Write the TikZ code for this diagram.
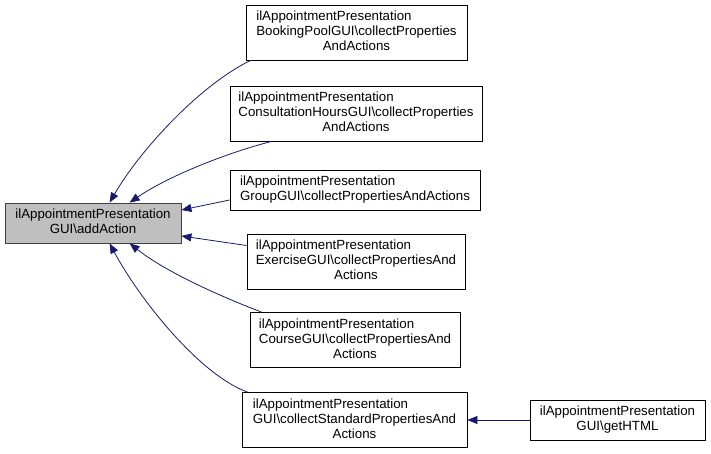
\documentclass[tikz,border=0pt]{standalone}
\usepackage{fontspec}
\setmainfont{Liberation Sans}
\usetikzlibrary{arrows.meta}
\definecolor{edgec}{HTML}{191970}
\definecolor{mainfill}{HTML}{BFBFBF}
\begin{document}
\begin{tikzpicture}[x=1pt,y=-1pt,
  box/.style={draw=black, line width=0.8pt, fill=white, inner xsep=6pt, inner ysep=5pt,
    font=\fontsize{13.3}{15}\selectfont, anchor=center},
  mainbox/.style={box, fill=mainfill, draw=black!75},
  edge/.style={draw=edgec, line width=0.8pt, {Triangle[length=10pt,width=8pt]}-}]
\useasboundingbox (0,0) rectangle (711,453);
\node[mainbox, minimum width=176pt, minimum height=40pt] (m) at (93,223)
  {\begin{tabular}{@{}l@{}}ilAppointmentPresentation\\\multicolumn{1}{@{}c@{}}{GUI\textbackslash addAction}\end{tabular}};
\node[box, minimum width=221pt, minimum height=55pt] (b1) at (356.5,32.5)
  {\begin{tabular}{@{}l@{}}ilAppointmentPresentation\\BookingPoolGUI\textbackslash collectProperties\\\multicolumn{1}{@{}c@{}}{AndActions}\end{tabular}};
\node[box, minimum width=252pt, minimum height=55pt] (b2) at (356,113.5)
  {\begin{tabular}{@{}l@{}}ilAppointmentPresentation\\ConsultationHoursGUI\textbackslash collectProperties\\\multicolumn{1}{@{}c@{}}{AndActions}\end{tabular}};
\node[box, minimum width=250pt, minimum height=40pt] (b3) at (355,190)
  {\begin{tabular}{@{}l@{}}ilAppointmentPresentation\\\multicolumn{1}{@{}c@{}}{GroupGUI\textbackslash collectPropertiesAndActions}\end{tabular}};
\node[box, minimum width=218pt, minimum height=55pt] (b4) at (356,261.5)
  {\begin{tabular}{@{}l@{}}ilAppointmentPresentation\\ExerciseGUI\textbackslash collectPropertiesAnd\\\multicolumn{1}{@{}c@{}}{Actions}\end{tabular}};
\node[box, minimum width=210pt, minimum height=55pt] (b5) at (355,340)
  {\begin{tabular}{@{}l@{}}ilAppointmentPresentation\\CourseGUI\textbackslash collectPropertiesAnd\\\multicolumn{1}{@{}c@{}}{Actions}\end{tabular}};
\node[box, minimum width=225pt, minimum height=55pt] (b6) at (354.5,420)
  {\begin{tabular}{@{}l@{}}ilAppointmentPresentation\\GUI\textbackslash collectStandardPropertiesAnd\\\multicolumn{1}{@{}c@{}}{Actions}\end{tabular}};
\node[box, minimum width=175pt, minimum height=40pt] (b7) at (617.5,420)
  {\begin{tabular}{@{}l@{}}ilAppointmentPresentation\\\multicolumn{1}{@{}c@{}}{GUI\textbackslash getHTML}\end{tabular}};
\draw[edge] ([xshift=105pt]m.north west) .. controls (140,150) and (200,85) .. ([xshift=5pt]b1.south west);
\draw[edge] ([xshift=125pt]m.north west) .. controls (170,175) and (230,152) .. ([xshift=42pt]b2.south west);
\draw[edge] ([yshift=13pt]m.east) -- ([yshift=-10pt]b3.west);
\draw[edge] ([yshift=-13pt]m.east) -- ([yshift=16pt]b4.west);
\draw[edge] ([xshift=125pt]m.south west) .. controls (170,275) and (230,300) .. ([xshift=12pt]b5.north west);
\draw[edge] ([xshift=105pt]m.south west) .. controls (140,300) and (200,375) .. ([xshift=6pt]b6.north west);
\draw[edge] (b6.east) -- (b7.west);
\end{tikzpicture}
\end{document}
